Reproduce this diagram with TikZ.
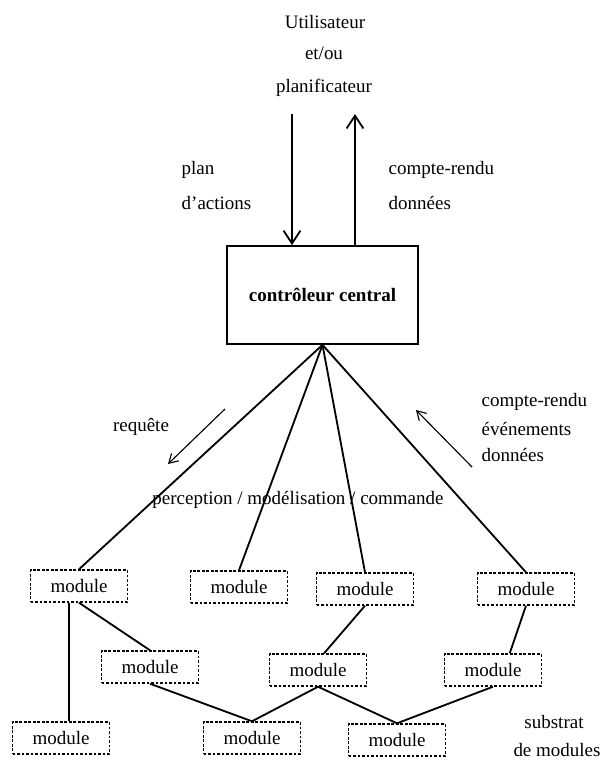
\documentclass[tikz,border=0pt]{standalone}
\usepackage{fontspec}
\setmainfont{Liberation Serif}
\usepackage{tikz}
\usetikzlibrary{arrows.meta}
\tikzstyle{controller} = [rectangle, minimum width=4.78cm, minimum height=2.45cm, text centered, draw=black, line width=1.2pt, font=\fontsize{13.5}{16}\selectfont\bfseries]
\tikzstyle{module} = [rectangle, minimum width=2.42cm, minimum height=0.8cm, text centered, draw=black, dash pattern=on 2pt off 1.2pt, line width=1pt]
\tikzstyle{txt} = [inner sep=1pt]
\tikzstyle{arrow} = [line width=1.3pt, -{Straight Barb[length=3.2mm,width=4.2mm]}]
\tikzstyle{smallarrow} = [line width=0.8pt, -{Straight Barb[length=2.2mm,width=2.6mm]}]
\tikzstyle{link} = [line width=1.3pt]

\begin{document}
\begin{tikzpicture}[x=0.025cm, y=-0.025cm, font=\fontsize{13.5}{16}\selectfont]
    \useasboundingbox (0,0) rectangle (601,765);

    % user / planner
    \node (user) [txt] at (325,22) {Utilisateur};
    \node (etou) [txt] at (324,53) {et/ou};
    \node (planner) [txt] at (324,88) {planificateur};

    \node (ctrl) [controller] at (322.5,295) {contrôleur central};

    \coordinate (planin) at (292,114);
    \coordinate (repout) at (355,114);
    \draw [arrow] (planin) -- (planin |- ctrl.north);
    \draw [arrow] (repout |- ctrl.north) -- (repout);

    \node (plan) [txt, anchor=west] at (180,170) {plan};
    \node (actions) [txt, anchor=west] at (180,203) {d'actions};
    \node (cr) [txt, anchor=west] at (387,170) {compte-rendu};
    \node (data) [txt, anchor=west] at (387,203) {données};

    % modules
    \node (m1) [module] at (79,586) {module};
    \node (m2) [module] at (239,587) {module};
    \node (m3) [module] at (365,589) {module};
    \node (m4) [module] at (526,589) {module};
    \node (m5) [module] at (150,667) {module};
    \node (m6) [module] at (318,670) {module};
    \node (m7) [module] at (493,670) {module};
    \node (m8) [module] at (61,738) {module};
    \node (m9) [module] at (252,738) {module};
    \node (m10) [module] at (397,740) {module};

    \draw [link] (ctrl.south) -- (m1.north);
    \draw [link] (ctrl.south) -- (m2.north);
    \draw [link] (ctrl.south) -- (m3.north);
    \draw [link] (ctrl.south) -- (m4.north);

    \draw [link] (m1.240) -- (m1.240 |- m8.north);
    \draw [link] (m1.south) -- (m5.north);
    \draw [link] (m5.south) -- (m9.north);
    \draw [link] (m3.south) -- (m6.70);
    \draw [link] (m6.south) -- (m9.north);
    \draw [link] (m6.south) -- (m10.north);
    \draw [link] (m4.south) -- (m7.45);
    \draw [link] (m7.south) -- (m10.north);

    % request / report
    \coordinate (rqa) at (225,409);
    \coordinate (rqb) at (168,464);
    \draw [smallarrow] (rqa) -- (rqb);
    \node (request) [txt] at (141,427) {requête};

    \coordinate (rpa) at (472,467);
    \coordinate (rpb) at (416,410);
    \draw [smallarrow] (rpa) -- (rpb);
    \node (cr2) [txt, anchor=west] at (480,402) {compte-rendu};
    \node (events) [txt, anchor=west] at (480,429) {événements};
    \node (data2) [txt, anchor=west] at (480,455) {données};

    \node (pmc) [txt] at (298,500) {perception / modélisation / commande};

    \node (substrat) [txt] at (554,722) {substrat};
    \node (demod) [txt] at (557,750) {de modules};
\end{tikzpicture}
\end{document}
